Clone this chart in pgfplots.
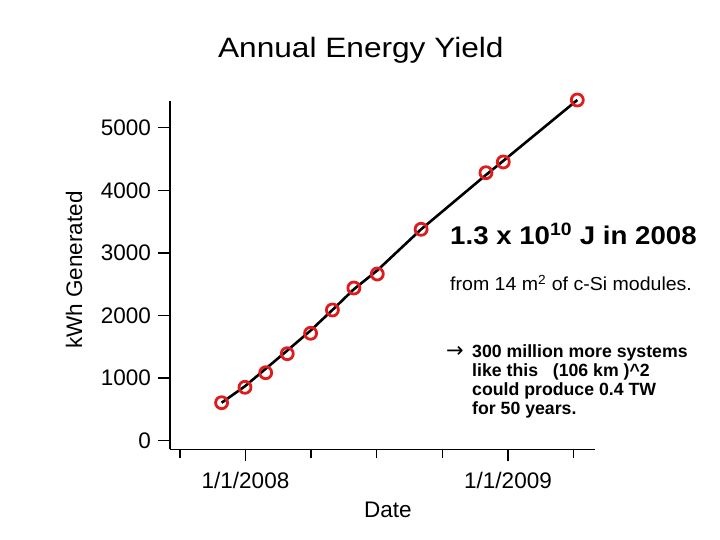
\documentclass[border=0pt]{standalone}
\usepackage{pgfplots}
\pgfplotsset{compat=1.18}
\usepackage{fontspec}
\setmainfont{Liberation Sans}
\newfontfamily\dejavu{DejaVu Sans}
\definecolor{markred}{RGB}{222,28,28}
\begin{document}
\begin{tikzpicture}
\path[use as bounding box] (0,0) rectangle (720pt,540pt);
\begin{axis}[
  at={(170pt,90.7pt)}, anchor=south west,
  scale only axis, width=425pt, height=348.6pt,
  xmin=2007.7124, xmax=2009.3314, ymin=-137, ymax=5431,
  axis x line=bottom, axis y line=left,
  axis line style={-, line width=1.4pt},
  tick align=outside,
  xtick={2008,2009}, xticklabels={1/1/2008,1/1/2009},
  minor xtick={2007.75,2008.25,2008.5,2008.75,2009.25},
  ytick={0,1000,2000,3000,4000,5000},
  major tick length=12pt, minor tick length=9pt,
  major tick style={black, line width=1.4pt},
  minor tick style={black, line width=1.4pt},
  tick label style={font=\fontsize{22.5}{27}\selectfont, inner sep=0pt},
  yticklabel style={anchor=east, xshift=-7pt},
  xticklabel style={anchor=base, yshift=-27pt},
  scaled y ticks=false,
  /pgf/number format/.cd, set thousands separator={}, assume math mode=true,
  /pgfplots/.cd,
  title={Annual Energy Yield},
  title style={at={(axis description cs:0.449,1.1073)}, anchor=base, inner sep=0pt,
    font=\fontsize{28}{33}\selectfont, xscale=1.13},
  ylabel={kWh Generated},
  ylabel style={at={(axis description cs:-0.207,0.5143)}, anchor=base, rotate=0, inner sep=0pt,
    font=\fontsize{22.5}{27}\selectfont},
  xlabel={Date},
  xlabel style={at={(axis description cs:0.5125,-0.1951)}, anchor=base, inner sep=0pt,
    font=\fontsize{22.5}{27}\selectfont},
  clip=false,
]
\addplot[black, line width=2.6pt] coordinates {
  (2007.909,607) (2007.998,870) (2008.077,1150) (2008.159,1440)
  (2008.248,1760) (2008.331,2088) (2008.413,2420) (2008.502,2720)
  (2008.669,3377) (2008.916,4245) (2008.982,4470) (2009.264,5442)
};
\addplot[only marks, mark=o, mark size=6pt, mark options={markred, line width=2.8pt}] coordinates {
  (2007.909,607) (2007.998,853) (2008.077,1086) (2008.159,1390)
  (2008.248,1716) (2008.331,2088) (2008.413,2439) (2008.502,2663)
  (2008.669,3377) (2008.916,4281) (2008.982,4452) (2009.264,5442)
};
\end{axis}
\node[anchor=base west, inner sep=0pt, xscale=1.08] at (450pt,295pt)
  {\fontsize{25.6}{30}\selectfont\bfseries 1.3 x 10\textsuperscript{10} J in 2008};
\node[anchor=base west, inner sep=0pt, xscale=1.04] at (450pt,249pt)
  {\fontsize{18.8}{22}\selectfont from 14 m\textsuperscript{2} of c-Si modules.};
\node[anchor=base west, inner sep=0pt] at (446pt,182.7pt)
  {\fontsize{21}{24}\selectfont\dejavu →};
\node[anchor=base west, inner sep=0pt] at (472pt,182.7pt)
  {\fontsize{17.7}{20}\selectfont\bfseries 300 million more systems};
\node[anchor=base west, inner sep=0pt] at (472pt,163.3pt)
  {\fontsize{17.7}{20}\selectfont\bfseries like this\ \ \ (106 km )\^{}2};
\node[anchor=base west, inner sep=0pt] at (472pt,144.3pt)
  {\fontsize{17.7}{20}\selectfont\bfseries could produce 0.4 TW};
\node[anchor=base west, inner sep=0pt] at (472pt,125pt)
  {\fontsize{17.7}{20}\selectfont\bfseries for 50 years.};
\end{tikzpicture}
\end{document}
